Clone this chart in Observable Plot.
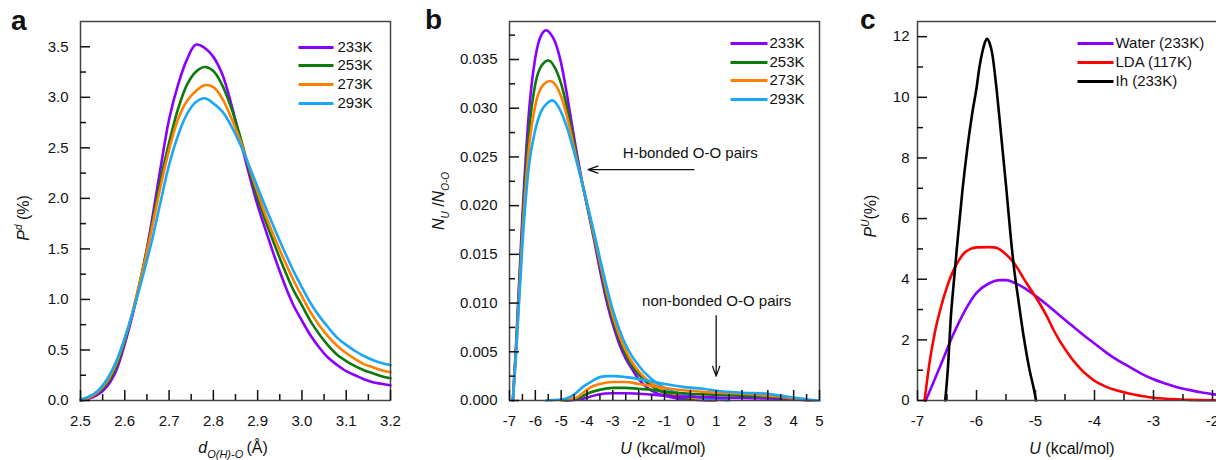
<!DOCTYPE html>
<html><head><meta charset="utf-8">
<script src="https://cdn.jsdelivr.net/npm/d3@7"></script>
<script src="https://cdn.jsdelivr.net/npm/@observablehq/plot@0.6"></script>
<style>
html,body{margin:0;padding:0;background:#fff;overflow:hidden;}
#fig{position:relative;width:1216px;height:460px;overflow:hidden;background:#fff;}
</style></head><body><div id="fig"></div>
<script>
const FONT = '"Liberation Sans", Arial, Helvetica, sans-serif';

// ---------- shared ----------
const temps = ["233K", "253K", "273K", "293K"];
const tempColors = ["#8a00ff", "#0b7a0b", "#ff8000", "#1aa7f5"];

// ---------- panel a : P^d vs d ----------
const aDist = [2.50,2.52,2.54,2.56,2.58,2.60,2.62,2.64,2.66,2.68,2.70,2.72,2.74,2.76,2.78,2.80,2.82,2.84,2.86,2.88,2.90,2.92,2.94,2.96,2.98,3.00,3.02,3.04,3.06,3.08,3.10,3.12,3.14,3.16,3.18,3.20];
const aP233 = [0.00,0.02,0.06,0.14,0.29,0.56,0.89,1.28,1.75,2.28,2.78,3.12,3.37,3.52,3.49,3.40,3.23,2.94,2.59,2.25,1.93,1.66,1.40,1.16,0.95,0.79,0.64,0.52,0.42,0.35,0.29,0.25,0.21,0.18,0.165,0.15];
const aP253 = [0.00,0.03,0.08,0.17,0.33,0.59,0.91,1.29,1.71,2.17,2.55,2.88,3.12,3.25,3.30,3.26,3.12,2.90,2.62,2.30,2.00,1.75,1.52,1.30,1.10,0.94,0.78,0.65,0.54,0.45,0.39,0.34,0.30,0.27,0.24,0.22];
const aP273 = [0.00,0.03,0.09,0.19,0.36,0.61,0.92,1.28,1.68,2.10,2.48,2.78,2.96,3.06,3.12,3.10,2.99,2.80,2.58,2.32,2.06,1.81,1.59,1.39,1.20,1.03,0.87,0.74,0.63,0.54,0.47,0.41,0.36,0.33,0.30,0.28];
const aP293 = [0.01,0.04,0.10,0.21,0.38,0.62,0.90,1.22,1.56,1.95,2.33,2.62,2.83,2.95,2.99,2.94,2.86,2.72,2.54,2.33,2.11,1.89,1.68,1.48,1.29,1.12,0.96,0.83,0.72,0.62,0.55,0.49,0.44,0.40,0.37,0.35];
const aXTicks = [2.5,2.6,2.7,2.8,2.9,3.0,3.1,3.2];
const aXMinor = [2.55,2.65,2.75,2.85,2.95,3.05,3.15];
const aYTicks = [0,0.5,1.0,1.5,2.0,2.5,3.0,3.5];
const aYMinor = [0.25,0.75,1.25,1.75,2.25,2.75,3.25];

// ---------- panel b : N_U/N_O-O vs U ----------
const b233H = [[-6.87,0],[-6.75,0.0055],[-6.5,0.0190],[-6.25,0.0295],[-6.0,0.0352],[-5.75,0.0376],[-5.58,0.0380],[-5.4,0.0376],[-5.25,0.0369],[-5.0,0.0346],[-4.75,0.0310],[-4.5,0.0270],[-4.25,0.0233],[-4.0,0.0200],[-3.75,0.0168],[-3.5,0.0134],[-3.25,0.0103],[-3.0,0.0078],[-2.75,0.0058],[-2.5,0.0043],[-2.25,0.0032],[-2.0,0.0022],[-1.75,0.0015],[-1.5,0.0010],[-1.0,0.0005],[-0.5,0.0002],[0,0.0001],[0.5,0.00003],[1.0,0]];
const b253H = [[-6.87,0],[-6.75,0.0052],[-6.5,0.0180],[-6.25,0.0275],[-6.0,0.0325],[-5.75,0.0344],[-5.49,0.0349],[-5.25,0.0342],[-5.0,0.0325],[-4.75,0.0298],[-4.5,0.0264],[-4.25,0.0231],[-4.0,0.0201],[-3.75,0.0170],[-3.5,0.0139],[-3.25,0.0108],[-3.0,0.0083],[-2.75,0.0063],[-2.5,0.0047],[-2.25,0.0035],[-2.0,0.0027],[-1.75,0.0020],[-1.5,0.0015],[-1.25,0.0011],[-1.0,0.0008],[-0.5,0.0004],[0,0.0002],[0.5,0.0001],[1.0,0]];
const b273H = [[-6.87,0],[-6.75,0.0048],[-6.5,0.0170],[-6.25,0.0258],[-6.0,0.0303],[-5.75,0.0322],[-5.42,0.0328],[-5.25,0.0325],[-5.0,0.0312],[-4.75,0.0289],[-4.5,0.0259],[-4.25,0.0230],[-4.0,0.0202],[-3.75,0.0172],[-3.5,0.0142],[-3.25,0.0113],[-3.0,0.0087],[-2.75,0.0067],[-2.5,0.0051],[-2.25,0.0039],[-2.0,0.0030],[-1.75,0.0023],[-1.5,0.0018],[-1.25,0.0014],[-1.0,0.0010],[-0.5,0.0006],[0,0.0003],[0.5,0.0001],[1.0,0]];
const b293H = [[-6.87,0],[-6.75,0.0045],[-6.5,0.0160],[-6.25,0.0240],[-6.0,0.0278],[-5.75,0.0298],[-5.55,0.0305],[-5.34,0.0308],[-5.0,0.0296],[-4.75,0.0278],[-4.5,0.0255],[-4.25,0.0230],[-4.0,0.0203],[-3.75,0.0175],[-3.5,0.0146],[-3.25,0.0118],[-3.0,0.0093],[-2.75,0.0073],[-2.5,0.0057],[-2.25,0.0045],[-2.0,0.0036],[-1.75,0.0028],[-1.5,0.0022],[-1.25,0.0017],[-1.0,0.0013],[-0.5,0.0008],[0,0.0005],[0.5,0.0002],[1.0,0.0001],[1.5,0]];
const b233N = [[-4.8,0],[-4.3,0.0001],[-4.0,0.0003],[-3.6,0.0006],[-3.0,0.00075],[-2.5,0.00075],[-2.0,0.0007],[-1.5,0.0006],[-1.0,0.0005],[-0.5,0.0004],[0,0.0004],[1,0.0003],[2,0.00025],[3,0.0002],[4,0.0001],[4.7,0]];
const b253N = [[-4.9,0],[-4.5,0.0001],[-4.2,0.0004],[-3.9,0.0008],[-3.5,0.0011],[-3.0,0.0013],[-2.5,0.0013],[-2.0,0.0012],[-1.5,0.0011],[-1.0,0.0009],[0,0.0007],[1,0.0006],[2,0.0005],[3,0.0004],[3.5,0.0003],[4,0.0002],[4.6,0]];
const b273N = [[-5.0,0],[-4.7,0.0001],[-4.41,0.0003],[-4.1,0.0009],[-3.9,0.0013],[-3.5,0.0017],[-3.0,0.0019],[-2.5,0.0019],[-2.0,0.0017],[-1.5,0.0015],[-1.0,0.0013],[-0.5,0.0011],[0,0.0010],[1,0.0008],[2,0.0007],[3,0.0005],[3.5,0.0004],[4,0.0002],[4.7,0]];
const b293N = [[-5.58,0],[-5.0,0.0001],[-4.8,0.0002],[-4.5,0.0006],[-4.16,0.0014],[-3.8,0.0020],[-3.5,0.0024],[-3.2,0.0025],[-2.9,0.0025],[-2.5,0.0024],[-2.2,0.0023],[-1.6,0.0020],[-1.0,0.0017],[-0.3,0.0014],[0.5,0.0012],[1.0,0.0010],[2.0,0.0008],[3.0,0.0007],[3.5,0.0005],[4.0,0.0003],[4.3,0.0002],[4.9,0],[5,0]];
const bXTicks = [-7,-6,-5,-4,-3,-2,-1,0,1,2,3,4,5];
const bXMinor = [-6.5,-5.5,-4.5,-3.5,-2.5,-1.5,-0.5,0.5,1.5,2.5,3.5,4.5];
const bYTicks = [0,0.005,0.010,0.015,0.020,0.025,0.030,0.035];
const bYMinor = [0.0025,0.0075,0.0125,0.0175,0.0225,0.0275,0.0325,0.0375];
const bNotes = ["H-bonded O-O pairs", "non-bonded O-O pairs"];
const bNoteAt = [[0, 0.0254], [1.02, 0.0102]];
const bArrows = [[0.14, 0.0237, -3.96, 0.0237], [1.0, 0.0087, 1.0, 0.0025]];

// ---------- panel c : P^U vs U ----------
const cNames = ["Water (233K)", "LDA (117K)", "Ih (233K)"];
const cColors = ["#8a00ff", "#ff0000", "#000000"];
const cWater = [[-6.86,0],[-6.75,0.5],[-6.6,1.2],[-6.4,2.15],[-6.2,2.95],[-6.0,3.55],[-5.8,3.85],[-5.6,3.97],[-5.5,3.97],[-5.4,3.92],[-5.2,3.72],[-5.0,3.45],[-4.8,3.15],[-4.6,2.82],[-4.4,2.50],[-4.2,2.18],[-4.0,1.88],[-3.8,1.58],[-3.6,1.32],[-3.4,1.10],[-3.2,0.88],[-3.0,0.70],[-2.8,0.56],[-2.6,0.44],[-2.4,0.35],[-2.2,0.27],[-2.0,0.21],[-1.8,0.16],[-1.6,0.12]];
const cLDA = [[-6.88,0],[-6.8,1.2],[-6.7,2.3],[-6.6,3.1],[-6.5,3.75],[-6.4,4.25],[-6.3,4.62],[-6.2,4.88],[-6.1,5.0],[-6.0,5.05],[-5.8,5.06],[-5.7,5.05],[-5.6,4.98],[-5.5,4.82],[-5.4,4.62],[-5.3,4.35],[-5.2,4.02],[-5.1,3.72],[-5.0,3.42],[-4.9,3.1],[-4.8,2.75],[-4.7,2.35],[-4.6,2.0],[-4.5,1.7],[-4.4,1.42],[-4.3,1.18],[-4.2,0.97],[-4.1,0.8],[-4.0,0.65],[-3.8,0.45],[-3.6,0.32],[-3.4,0.22],[-3.2,0.15],[-3.0,0.09],[-2.8,0.06],[-2.6,0.04],[-2.4,0.02],[-2.0,0.01],[-1.6,0.01]];
const cIh = [[-6.53,0],[-6.48,1.2],[-6.44,2.6],[-6.38,4.0],[-6.32,5.3],[-6.24,6.9],[-6.15,8.4],[-6.07,9.5],[-6.0,10.3],[-5.95,11.0],[-5.9,11.5],[-5.85,11.85],[-5.82,11.93],[-5.78,11.8],[-5.73,11.4],[-5.67,10.45],[-5.6,9.1],[-5.5,7.1],[-5.42,5.4],[-5.36,4.3],[-5.3,3.45],[-5.2,2.1],[-5.1,1.0],[-5.03,0.4],[-4.99,0]];
const cXTicks = [-7,-6,-5,-4,-3,-2];
const cXMinor = [-6.5,-5.5,-4.5,-3.5,-2.5];
const cYTicks = [0,2,4,6,8,10,12];
const cYMinor = [1,3,5,7,9,11];

// ---------- helpers ----------
const H = 460, MT = 21, MB = 60;
const fig = document.getElementById("fig");

function panel({left, width, ml, mr, xDom, yDom, xT, xM, yT, yM, xFmt, yFmt, yPad, colorDom, colorRange, marks}) {
  const ih = H - MT - MB, iw = width - ml - mr;
  const svg = Plot.plot({
    width, height: H, marginLeft: ml, marginRight: mr, marginTop: MT, marginBottom: MB,
    style: {fontFamily: FONT, fontSize: "15px", color: "#111", background: "transparent", overflow: "visible"},
    x: {domain: xDom, label: null},
    y: {domain: yDom, label: null},
    color: {domain: colorDom, range: colorRange},
    marks: [
      ...marks,
      Plot.frame({stroke: "#444", strokeWidth: 1.5}),
      Plot.tickX(xT, {x: d => d, insetTop: ih - 10, stroke: "#111", strokeWidth: 1.5}),
      Plot.tickX(xM, {x: d => d, insetTop: ih - 6, stroke: "#111", strokeWidth: 1.5}),
      Plot.tickY(yT, {y: d => d, insetRight: iw - 10, stroke: "#111", strokeWidth: 1.5}),
      Plot.tickY(yM, {y: d => d, insetRight: iw - 6, stroke: "#111", strokeWidth: 1.5}),
      Plot.axisX(xT, {tickSize: 0, tickPadding: 15, tickFormat: xFmt, fontSize: 15, label: null}),
      Plot.axisY(yT, {tickSize: 0, tickPadding: yPad, tickFormat: yFmt, fontSize: 15, label: null})
    ]
  });
  svg.style.position = "absolute";
  svg.style.left = left + "px";
  svg.style.top = "0px";
  fig.appendChild(svg);
  return svg;
}

// legend rows positioned in pixel space of the frame, converted to data space
function legendMarks({width, ml, mr, xDom, yDom, names, colors, lx0, lx1, tx, rows}) {
  const fx = d3.scaleLinear([ml, width - mr], xDom);
  const fy = d3.scaleLinear([H - MB, MT], yDom);
  const data = names.map((n, i) => ({n, c: colors[i], y: fy(rows[i])}));
  return [
    Plot.link(data, {x1: () => fx(lx0), x2: () => fx(lx1), y1: "y", y2: "y", stroke: d => d.c, strokeWidth: 3}),
    Plot.text(data, {x: () => fx(tx), y: "y", text: "n", textAnchor: "start", fontSize: 15, fill: "#111"})
  ];
}

function addText(svg, {x, y, rotate, size = 15, parts, weight}) {
  const t = d3.select(svg).append("text")
    .attr("font-family", FONT).attr("font-size", size).attr("fill", "#111")
    .attr("text-anchor", "middle");
  if (weight) t.attr("font-weight", weight).attr("text-anchor", "start");
  if (rotate) t.attr("transform", `translate(${x},${y}) rotate(-90)`);
  else t.attr("x", x).attr("y", y);
  for (const p of parts) {
    const s = t.append("tspan").text(p.t);
    if (p.i) s.attr("font-style", "italic");
    if (p.s) s.attr("font-size", p.s);
    if (p.dy) s.attr("dy", p.dy);
  }
}

function rowsOf(xs, ysList, names) {
  const out = [];
  ysList.forEach((ys, k) => xs.forEach((x, i) => out.push({x, y: ys[i], s: names[k]})));
  return out;
}
function rowsPairs(list, names, tag) {
  const out = [];
  list.forEach((arr, k) => arr.forEach(([x, y]) => out.push({x, y, s: names[k], z: names[k] + tag})));
  return out;
}

// ---------- panel a ----------
const aRows = rowsOf(aDist, [aP233, aP253, aP273, aP293], temps);
const A = {left: 0, width: 400, ml: 80, mr: 10, xDom: [2.5, 3.2], yDom: [0, 3.75]};
const svgA = panel({
  ...A, xT: aXTicks, xM: aXMinor, yT: aYTicks, yM: aYMinor,
  xFmt: d3.format(".1f"), yFmt: d3.format(".1f"), yPad: 12,
  colorDom: temps, colorRange: tempColors,
  marks: [
    Plot.line(aRows, {x: "x", y: "y", z: "s", stroke: "s", strokeWidth: 2.6, curve: "catmull-rom"}),
    ...legendMarks({...A, names: temps, colors: tempColors, lx0: 298, lx1: 333, tx: 337, rows: [47, 65, 84, 103]})
  ]
});
addText(svgA, {x: 11, y: 30, size: 28, weight: "bold", parts: [{t: "a"}]});
addText(svgA, {x: 233, y: 453, size: 16, parts: [{t: "d", i: 1}, {t: "O(H)-O", i: 1, s: 11, dy: 5}, {t: "\u2009(Å)", dy: -5}]});
addText(svgA, {x: 29, y: 218, rotate: true, size: 16, parts: [{t: "P", i: 1}, {t: "d", i: 1, s: 10, dy: -7}, {t: " (%)", dy: 7}]});

// ---------- panel b ----------
const bRows = [
  ...rowsPairs([b233H, b253H, b273H, b293H], temps, "H"),
  ...rowsPairs([b233N, b253N, b273N, b293N], temps, "N")
];
const B = {left: 400, width: 420, ml: 109, mr: 1, xDom: [-7, 5], yDom: [0, 0.0389]};
const svgB = panel({
  ...B, xT: bXTicks, xM: bXMinor, yT: bYTicks, yM: bYMinor,
  xFmt: d => String(d), yFmt: d3.format(".3f"), yPad: 12,
  colorDom: temps, colorRange: tempColors,
  marks: [
    Plot.line(bRows, {x: "x", y: "y", z: "z", stroke: "s", strokeWidth: 2.6, curve: "monotone-x"}),
    Plot.text(bNotes, {x: (d, i) => bNoteAt[i][0], y: (d, i) => bNoteAt[i][1], text: d => d, fontSize: 15, fill: "#111"}),
    Plot.arrow(bArrows, {x1: d => d[0], y1: d => d[1], x2: d => d[2], y2: d => d[3], stroke: "#111", strokeWidth: 1.3, headLength: 12, headAngle: 40}),
    ...legendMarks({...B, names: temps, colors: tempColors, lx0: 330, lx1: 367, tx: 369, rows: [43, 62, 80, 99]})
  ]
});
addText(svgB, {x: 25, y: 29, size: 28, weight: "bold", parts: [{t: "b"}]});
addText(svgB, {x: 263, y: 454, size: 16, parts: [{t: "U", i: 1}, {t: " (kcal/mol)"}]});
addText(svgB, {x: 44, y: 201, rotate: true, size: 16, parts: [{t: "N", i: 1}, {t: "U", i: 1, s: 10, dy: 5}, {t: " /", dy: -5}, {t: "N", i: 1}, {t: "O-O", i: 1, s: 10, dy: 5}]});

// ---------- panel c ----------
const cRows = rowsPairs([cWater, cLDA, cIh], cNames, "");
const C = {left: 820, width: 420, ml: 97, mr: 4.4, xDom: [-7, -1.6], yDom: [0, 12.5]};
const svgC = panel({
  ...C, xT: cXTicks, xM: cXMinor, yT: cYTicks, yM: cYMinor,
  xFmt: d => String(d), yFmt: d => String(d), yPad: 8,
  colorDom: cNames, colorRange: cColors,
  marks: [
    Plot.line(cRows, {x: "x", y: "y", z: "z", stroke: "s", strokeWidth: 2.6, curve: "monotone-x"}),
    ...legendMarks({...C, names: cNames, colors: cColors, lx0: 257, lx1: 293, tx: 295, rows: [43, 62, 81]})
  ]
});
addText(svgC, {x: 40, y: 29, size: 28, weight: "bold", parts: [{t: "c"}]});
addText(svgC, {x: 252, y: 454, size: 16, parts: [{t: "U", i: 1}, {t: " (kcal/mol)"}]});
addText(svgC, {x: 56, y: 216, rotate: true, size: 16, parts: [{t: "P", i: 1}, {t: "U", i: 1, s: 10, dy: -7}, {t: "(%)", dy: 7}]});
</script></body></html>
